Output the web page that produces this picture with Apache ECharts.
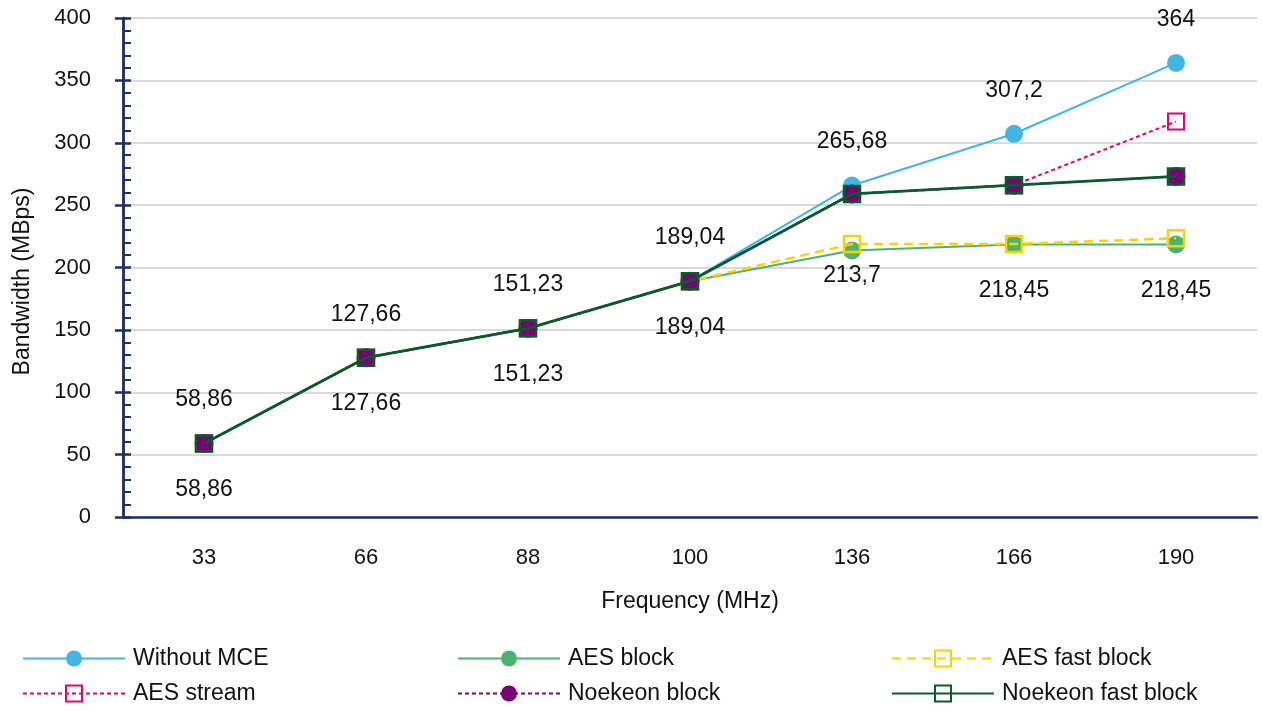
<!DOCTYPE html>
<html>
<head>
<meta charset="utf-8">
<script src="https://cdn.jsdelivr.net/npm/echarts@6/dist/echarts.min.js"></script>
<style>
  html, body { margin: 0; padding: 0; background: #fff; }
  #chart { width: 1262px; height: 711px; }
</style>
</head>
<body>
<div id="chart"></div>
<script>
// Bus clock frequencies (MHz)
const frequencies = ['33', '66', '88', '100', '136', '166', '190'];

// Bandwidth in MBps per configuration
const withoutMce       = [58.86, 127.66, 151.23, 189.04, 265.68, 307.2, 364];
const aesBlock         = [58.86, 127.66, 151.23, 189.04, 213.7, 218.45, 218.45];
const aesFastBlock     = [58.86, 127.66, 151.23, 189.04, 218.8, 218.8, 223.4];
const aesStream        = [58.86, 127.66, 151.23, 189.04, 259, 266, 317];
const noekeonBlock     = [58.86, 127.66, 151.23, 189.04, 259, 266, 273];
const noekeonFastBlock = [58.86, 127.66, 151.23, 189.04, 259, 266, 273];

const yTicks = { min: 0, max: 400, interval: 50 };

const FONT = '"Liberation Sans", Arial, sans-serif';
const TEXT = '#111';
const AXIS_BLUE = '#1B3068';

const fmt = v => String(v).replace('.', ',');

const chart = echarts.init(document.getElementById('chart'));

const yAxisBase = {
  type: 'value',
  min: yTicks.min,
  max: yTicks.max,
  interval: yTicks.interval,
  axisLine: { show: true, lineStyle: { color: AXIS_BLUE, width: 2.5 } }
};

// One legend per entry so that each sits in a fixed column
const legendSlots = [
  { name: 'Without MCE',        left: 22,  top: 647 },
  { name: 'AES block',          left: 457, top: 647 },
  { name: 'AES fast block',     left: 891, top: 647 },
  { name: 'AES stream',         left: 22,  top: 682 },
  { name: 'Noekeon block',      left: 457, top: 682 },
  { name: 'Noekeon fast block', left: 891, top: 682 }
];

const option = {
  backgroundColor: '#fff',
  animation: false,
  textStyle: { fontFamily: FONT },
  grid: { left: 123, right: 5, top: 18, bottom: 194, containLabel: false },
  legend: legendSlots.map(s => ({
    data: [s.name],
    left: s.left,
    top: s.top,
    itemWidth: 102,
    itemHeight: 20,
    itemGap: 0,
    padding: 0,
    textStyle: { fontFamily: FONT, fontSize: 23, color: TEXT, padding: [0, 0, 0, 3] }
  })),
  xAxis: {
    type: 'category',
    data: frequencies,
    boundaryGap: true,
    name: 'Frequency (MHz)',
    nameLocation: 'middle',
    nameGap: 73,
    nameTextStyle: { fontFamily: FONT, fontSize: 23, color: TEXT },
    axisLine: { show: true, lineStyle: { color: AXIS_BLUE, width: 2.5 } },
    axisTick: { show: false },
    axisLabel: { margin: 30, fontFamily: FONT, fontSize: 22, color: TEXT },
    splitLine: { show: false }
  },
  yAxis: [
    Object.assign({}, yAxisBase, {
      name: 'Bandwidth (MBps)',
      nameLocation: 'middle',
      nameGap: 89,
      nameTextStyle: { fontFamily: FONT, fontSize: 23, color: TEXT, padding: [0, 28, 0, 0] },
      axisTick: { show: true, inside: true, length: 8, lineStyle: { color: AXIS_BLUE, width: 2.5 } },
      minorTick: { show: true, splitNumber: 5, length: 8, lineStyle: { color: AXIS_BLUE, width: 2 } },
      axisLabel: { margin: 32, fontFamily: FONT, fontSize: 22, color: TEXT },
      splitLine: { show: true, lineStyle: { color: '#D9D9D9', width: 2 } }
    }),
    // Outer half of the major ticks
    Object.assign({}, yAxisBase, {
      position: 'left',
      offset: 0,
      axisTick: { show: true, inside: false, length: 8, lineStyle: { color: AXIS_BLUE, width: 2.5 } },
      axisLabel: { show: false },
      splitLine: { show: false }
    })
  ],
  series: [
    {
      name: 'Without MCE',
      type: 'line',
      data: withoutMce,
      symbol: 'circle',
      symbolSize: 18,
      z: 3,
      lineStyle: { color: '#41B6E6', width: 2 },
      itemStyle: { color: '#41B6E6' },
      label: {
        show: true, position: 'top', distance: 23,
        formatter: p => fmt(p.value),
        fontFamily: FONT, fontSize: 23, color: TEXT
      }
    },
    {
      name: 'AES block',
      type: 'line',
      data: aesBlock.map((v, i) => i === 4
        ? { value: v, label: { distance: 4.5 } }
        : v),
      symbol: 'circle',
      symbolSize: 18,
      z: 3,
      lineStyle: { color: '#4CB36F', width: 2 },
      itemStyle: { color: '#4CB36F' },
      label: {
        show: true, position: 'bottom', distance: 25.5,
        formatter: p => fmt(p.value),
        fontFamily: FONT, fontSize: 23, color: TEXT
      }
    },
    {
      name: 'AES fast block',
      type: 'line',
      data: aesFastBlock,
      symbol: 'rect',
      symbolSize: 16,
      z: 4,
      lineStyle: { color: '#FFD100', width: 2.5, type: [9, 6] },
      itemStyle: { color: 'rgba(255,255,255,0)', borderColor: '#FFD100', borderWidth: 2.5 }
    },
    {
      name: 'AES stream',
      type: 'line',
      data: aesStream,
      symbol: 'rect',
      symbolSize: 16,
      z: 5,
      lineStyle: { color: '#E5007D', width: 2, type: [4, 3] },
      itemStyle: { color: 'rgba(255,255,255,0)', borderColor: '#E5007D', borderWidth: 2 }
    },
    {
      name: 'Noekeon block',
      type: 'line',
      data: noekeonBlock,
      symbol: 'circle',
      symbolSize: 19,
      z: 6,
      lineStyle: { color: '#7A0075', width: 2, type: [4, 3] },
      itemStyle: { color: '#7A0075' }
    },
    {
      name: 'Noekeon fast block',
      type: 'line',
      data: noekeonFastBlock,
      symbol: 'rect',
      symbolSize: 16,
      z: 7,
      lineStyle: { color: '#0A5A2E', width: 2.8 },
      itemStyle: { color: 'rgba(255,255,255,0)', borderColor: '#0A5A2E', borderWidth: 2.5 }
    }
  ]
};

chart.setOption(option);
</script>
</body>
</html>
